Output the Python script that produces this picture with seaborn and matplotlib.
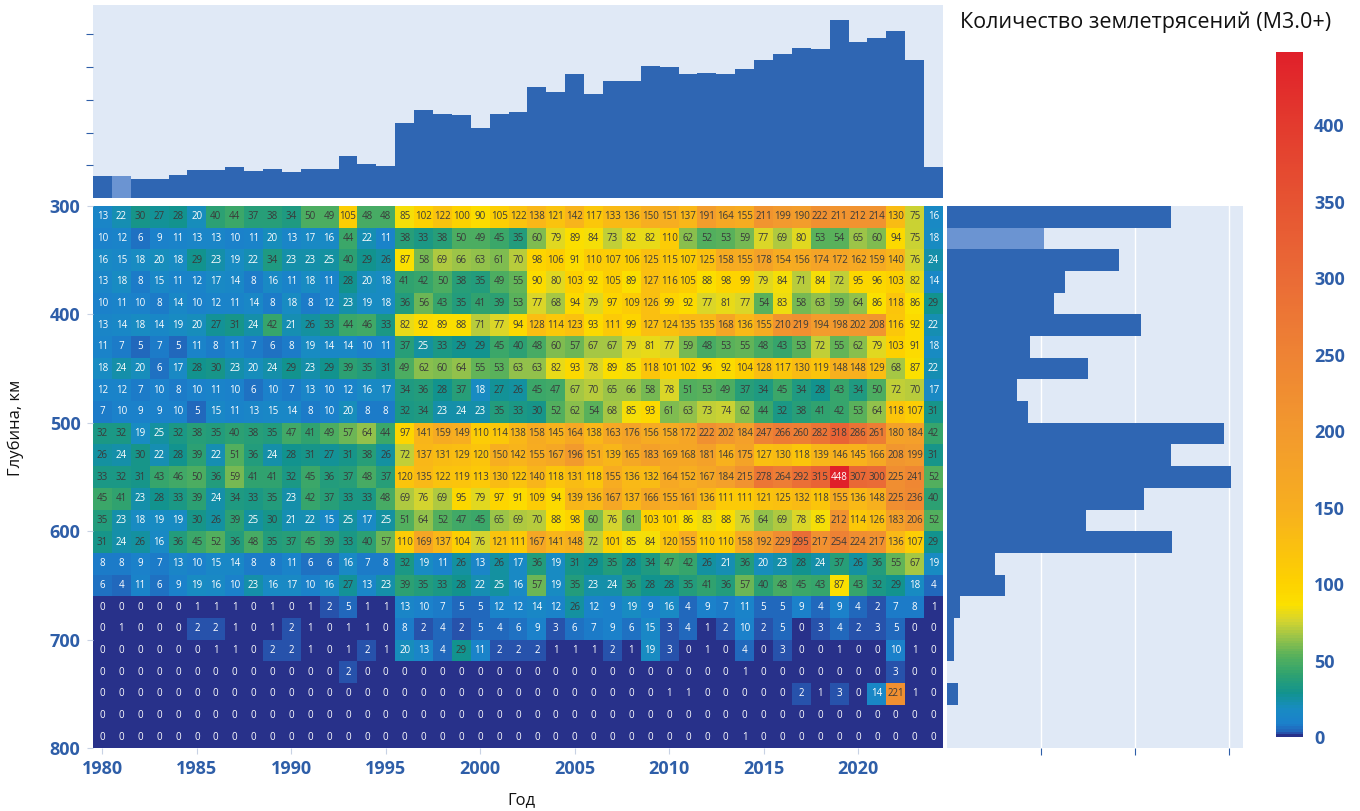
import numpy as np
import pandas as pd
import matplotlib
matplotlib.use("Agg")
import matplotlib.pyplot as plt
import seaborn as sns
from matplotlib.colors import LinearSegmentedColormap

plt.rcParams["font.family"] = ["Open Sans", "DejaVu Sans"]

""" Data: number of M3.0+ earthquakes per year and per 20 km depth layer """

years = list(range(1980, 2025))
depths = list(range(300, 800, 20))  # top of each layer, km

d300 = [13, 22, 30, 27, 28, 20, 40, 44, 37, 38, 34, 50, 49, 105, 48, 48, 85, 102, 122, 100, 90, 105, 122, 138, 121, 142, 117, 133, 136, 150, 151, 137, 191, 164, 155, 211, 199, 190, 222, 211, 212, 214, 130, 75, 16]
d320 = [10, 12, 6, 9, 11, 13, 13, 10, 11, 20, 13, 17, 16, 44, 22, 11, 38, 33, 38, 50, 49, 45, 35, 60, 79, 89, 84, 73, 82, 82, 110, 62, 52, 53, 59, 77, 69, 80, 53, 54, 65, 60, 94, 75, 18]
d340 = [16, 15, 18, 20, 18, 29, 23, 19, 22, 34, 23, 23, 25, 40, 29, 26, 87, 58, 69, 66, 63, 61, 70, 98, 106, 91, 110, 107, 106, 125, 115, 107, 125, 158, 155, 178, 154, 156, 174, 172, 162, 159, 140, 76, 24]
d360 = [13, 18, 8, 15, 11, 12, 17, 14, 8, 16, 11, 18, 11, 28, 20, 18, 41, 42, 50, 38, 35, 49, 55, 90, 80, 103, 92, 105, 89, 127, 116, 105, 88, 98, 99, 79, 84, 71, 84, 72, 95, 96, 103, 82, 14]
d380 = [10, 11, 10, 8, 14, 10, 12, 11, 14, 8, 18, 8, 12, 23, 19, 18, 36, 56, 43, 35, 41, 39, 53, 77, 68, 94, 79, 97, 109, 126, 99, 92, 77, 81, 77, 54, 83, 58, 63, 59, 64, 86, 118, 86, 29]
d400 = [13, 14, 18, 14, 19, 20, 27, 31, 24, 42, 21, 26, 33, 44, 46, 33, 82, 92, 89, 88, 71, 77, 94, 128, 114, 123, 93, 111, 99, 127, 124, 135, 135, 168, 136, 155, 210, 219, 194, 198, 202, 208, 116, 92, 22]
d420 = [11, 7, 5, 7, 5, 11, 8, 11, 7, 6, 8, 19, 14, 14, 10, 11, 37, 25, 33, 29, 29, 45, 40, 48, 60, 57, 67, 67, 79, 81, 77, 59, 48, 53, 55, 48, 43, 53, 72, 55, 62, 79, 103, 91, 18]
d440 = [18, 24, 20, 6, 17, 28, 30, 23, 20, 24, 29, 23, 29, 39, 35, 31, 49, 62, 60, 64, 55, 53, 63, 63, 82, 93, 78, 89, 85, 118, 101, 102, 96, 92, 104, 128, 117, 130, 119, 148, 148, 129, 68, 87, 22]
d460 = [12, 12, 7, 10, 8, 10, 11, 10, 6, 10, 7, 13, 10, 12, 16, 17, 34, 36, 28, 37, 18, 27, 26, 45, 47, 67, 70, 65, 66, 58, 78, 51, 53, 49, 37, 34, 45, 34, 28, 43, 34, 50, 72, 70, 17]
d480 = [7, 10, 9, 9, 10, 5, 15, 11, 13, 15, 14, 8, 10, 20, 8, 8, 32, 34, 23, 24, 23, 35, 33, 30, 52, 62, 54, 68, 85, 93, 61, 63, 73, 74, 62, 44, 32, 38, 41, 42, 53, 64, 118, 107, 31]
d500 = [32, 32, 19, 25, 32, 38, 35, 40, 38, 35, 47, 41, 49, 57, 64, 44, 97, 141, 159, 149, 110, 114, 138, 158, 145, 164, 138, 163, 176, 156, 158, 172, 222, 202, 184, 247, 266, 260, 282, 318, 286, 261, 180, 184, 42]
d520 = [26, 24, 30, 22, 28, 39, 22, 51, 36, 24, 28, 31, 27, 31, 38, 26, 72, 137, 131, 129, 120, 150, 142, 155, 167, 196, 151, 139, 165, 183, 169, 168, 181, 146, 175, 127, 130, 118, 139, 146, 145, 166, 208, 199, 31]
d540 = [33, 32, 31, 43, 46, 50, 36, 59, 41, 41, 32, 45, 36, 37, 48, 37, 120, 135, 122, 119, 113, 130, 122, 140, 118, 131, 118, 155, 136, 132, 164, 152, 167, 184, 215, 278, 264, 292, 315, 448, 307, 300, 225, 241, 52]
d560 = [45, 41, 23, 28, 33, 39, 24, 34, 33, 35, 23, 42, 37, 33, 33, 48, 69, 76, 69, 95, 79, 97, 91, 109, 94, 139, 136, 167, 137, 166, 155, 161, 136, 111, 111, 121, 125, 132, 118, 155, 136, 148, 225, 236, 40]
d580 = [35, 23, 18, 19, 19, 30, 26, 39, 25, 30, 21, 22, 15, 25, 17, 25, 51, 64, 52, 47, 45, 65, 69, 70, 88, 98, 60, 76, 61, 103, 101, 86, 83, 88, 76, 64, 69, 78, 85, 212, 114, 126, 183, 206, 52]
d600 = [31, 24, 26, 16, 36, 45, 52, 36, 48, 35, 37, 45, 39, 33, 40, 57, 110, 169, 137, 104, 76, 121, 111, 167, 141, 148, 72, 101, 85, 84, 120, 155, 110, 110, 158, 192, 229, 295, 217, 254, 224, 217, 136, 107, 29]
d620 = [8, 8, 9, 7, 13, 10, 15, 14, 8, 8, 11, 6, 6, 16, 7, 8, 32, 19, 11, 26, 13, 26, 17, 36, 19, 31, 29, 35, 28, 34, 47, 42, 26, 21, 36, 20, 23, 28, 24, 37, 26, 36, 55, 67, 19]
d640 = [6, 4, 11, 6, 9, 19, 16, 10, 23, 16, 17, 10, 16, 27, 13, 23, 39, 35, 33, 28, 22, 25, 16, 57, 19, 35, 23, 24, 36, 28, 28, 35, 41, 36, 57, 40, 48, 45, 43, 87, 43, 32, 29, 18, 4]
d660 = [0, 0, 0, 0, 0, 1, 1, 1, 0, 1, 0, 1, 2, 5, 1, 1, 13, 10, 7, 5, 5, 12, 12, 14, 12, 26, 12, 9, 19, 9, 16, 4, 9, 7, 11, 5, 5, 9, 4, 9, 4, 2, 7, 8, 1]
d680 = [0, 1, 0, 0, 0, 2, 2, 1, 0, 1, 2, 1, 0, 1, 1, 0, 8, 2, 4, 2, 5, 4, 6, 9, 3, 6, 7, 9, 6, 15, 3, 4, 1, 2, 10, 2, 5, 0, 3, 4, 2, 3, 5, 0, 0]
d700 = [0, 0, 0, 0, 0, 0, 1, 1, 0, 2, 2, 1, 0, 1, 2, 1, 20, 13, 4, 29, 11, 2, 2, 2, 1, 1, 1, 2, 1, 19, 3, 0, 1, 0, 4, 0, 3, 0, 0, 1, 0, 0, 10, 1, 0]
d720 = [0, 0, 0, 0, 0, 0, 0, 0, 0, 0, 0, 0, 0, 2, 0, 0, 0, 0, 0, 0, 0, 0, 0, 0, 0, 0, 0, 0, 0, 0, 0, 0, 0, 0, 1, 0, 0, 0, 0, 0, 0, 0, 3, 0, 0]
d740 = [0, 0, 0, 0, 0, 0, 0, 0, 0, 0, 0, 0, 0, 0, 0, 0, 0, 0, 0, 0, 0, 0, 0, 0, 0, 0, 0, 0, 0, 0, 1, 1, 0, 0, 0, 0, 0, 2, 1, 3, 0, 14, 221, 1, 0]
d760 = [0] * 45
d780 = [0, 0, 0, 0, 0, 0, 0, 0, 0, 0, 0, 0, 0, 0, 0, 0, 0, 0, 0, 0, 0, 0, 0, 0, 0, 0, 0, 0, 0, 0, 0, 0, 0, 0, 1, 0, 0, 0, 0, 0, 0, 0, 0, 0, 0]

rows = [d300, d320, d340, d360, d380, d400, d420, d440, d460, d480, d500, d520,
        d540, d560, d580, d600, d620, d640, d660, d680, d700, d720, d740, d760, d780]
counts = pd.DataFrame(rows, index=depths, columns=years)

per_year = counts.sum(axis=0)   # top marginal histogram
per_depth = counts.sum(axis=1)  # right marginal histogram

""" Styling """

BLUE_TXT = "#2e5ea8"
BAR = "#2f66b3"
BAR_HI = "#6b94d2"
BG = "#e0e9f6"

vmax = counts.values.max()
stops = [(0, "#28318a"), (1, "#2a47a2"), (3, "#2265ba"), (8, "#1b80cb"), (18, "#188cc2"),
         (28, "#12938e"), (40, "#2fa270"), (52, "#55b05c"), (65, "#9cc448"), (76, "#d6d52e"),
         (86, "#fbe000"), (100, "#fdd200"), (150, "#f7ae20"), (200, "#f2992e"), (250, "#ee8334"),
         (300, "#ea6b36"), (350, "#e65432"), (400, "#e33b2e"), (vmax, "#e0202a")]
cmap = LinearSegmentedColormap.from_list("quakes", [(v / vmax, c) for v, c in stops])

W, H = 1360, 811


def box(l, t, r, b):
    # pixel box -> figure fraction
    return [l / W, 1 - b / H, (r - l) / W, (b - t) / H]


fig = plt.figure(figsize=(W / 100, H / 100), dpi=100)
ax = fig.add_axes(box(93, 206, 943, 748))
ax_top = fig.add_axes(box(93, 5, 943, 198))
ax_right = fig.add_axes(box(947, 206, 1243, 748))
cax = fig.add_axes(box(1276, 52, 1303, 737))

""" Heatmap """

sns.heatmap(counts, ax=ax, cmap=cmap, vmin=0, vmax=vmax, annot=True, fmt="d",
            annot_kws={"fontsize": 7}, cbar_ax=cax, linewidths=0,
            xticklabels=False, yticklabels=False)

for t in ax.texts:
    v = int(t.get_text())
    t.set_color("white" if (v < 26 or v > 400) else "#3a3a3a")

xt = [i for i, y in enumerate(years) if y % 5 == 0 and y <= 2020]
ax.set_xticks([i + 0.5 for i in xt])
ax.set_xticklabels([years[i] for i in xt])
ax.set_yticks(range(0, len(depths) + 1, 5))
ax.set_yticklabels([300 + 20 * i for i in range(0, len(depths) + 1, 5)])
ax.tick_params(axis="both", length=4, color="#c8d2e4", labelsize=13, labelcolor=BLUE_TXT, pad=5)
for lbl in ax.get_xticklabels() + ax.get_yticklabels():
    lbl.set_fontweight("bold")
ax.set_xlabel("")
ax.set_ylabel("")

""" Marginal histograms """

hi = 1  # highlighted (hovered) cell: 1981, 320-340 km
ax_top.set_facecolor(BG)
ax_top.bar(np.arange(len(years)) + 0.5, per_year.values, width=1.0,
           color=[BAR_HI if i == hi else BAR for i in range(len(years))], linewidth=0)
ax_top.set_xlim(0, len(years))
ax_top.set_ylim(0, 2950)
ax_top.set_xticks([])
ax_top.set_yticks([500, 1000, 1500, 2000, 2500])
ax_top.set_yticklabels([])
ax_top.tick_params(axis="y", length=5, color=BLUE_TXT)
for s in ax_top.spines.values():
    s.set_visible(False)

ax_right.set_facecolor(BG)
ax_right.set_axisbelow(True)
ax_right.grid(axis="x", color="white", linewidth=1)
ax_right.barh(np.arange(len(depths)) + 0.5, per_depth.values, height=1.0,
              color=[BAR_HI if i == hi else BAR for i in range(len(depths))], linewidth=0)
ax_right.set_ylim(len(depths), 0)
ax_right.set_xlim(0, 6300)
ax_right.set_yticks([])
ax_right.set_xticks([2000, 4000, 6000])
ax_right.set_xticklabels([])
ax_right.tick_params(axis="x", length=5, color=BLUE_TXT)
for s in ax_right.spines.values():
    s.set_visible(False)

""" Colorbar and texts """

cbar = ax.collections[0].colorbar
cbar.set_ticks(range(0, 401, 50))
cbar.outline.set_visible(False)
cax.tick_params(length=0, labelsize=13, labelcolor=BLUE_TXT, pad=8)
for lbl in cax.get_yticklabels():
    lbl.set_fontweight("bold")

fig.text(960 / W, 1 - 22 / H, "Количество землетрясений (M3.0+)", fontsize=15.5,
         ha="left", va="center", color="#111111")
fig.text(16 / W, 1 - 428 / H, "Глубина, км", fontsize=12, rotation=90,
         ha="center", va="center", color="#111111")
fig.text(521 / W, 1 - 800 / H, "Год", fontsize=12, ha="center", va="center", color="#111111")

fig.savefig("out.png", dpi=100)
